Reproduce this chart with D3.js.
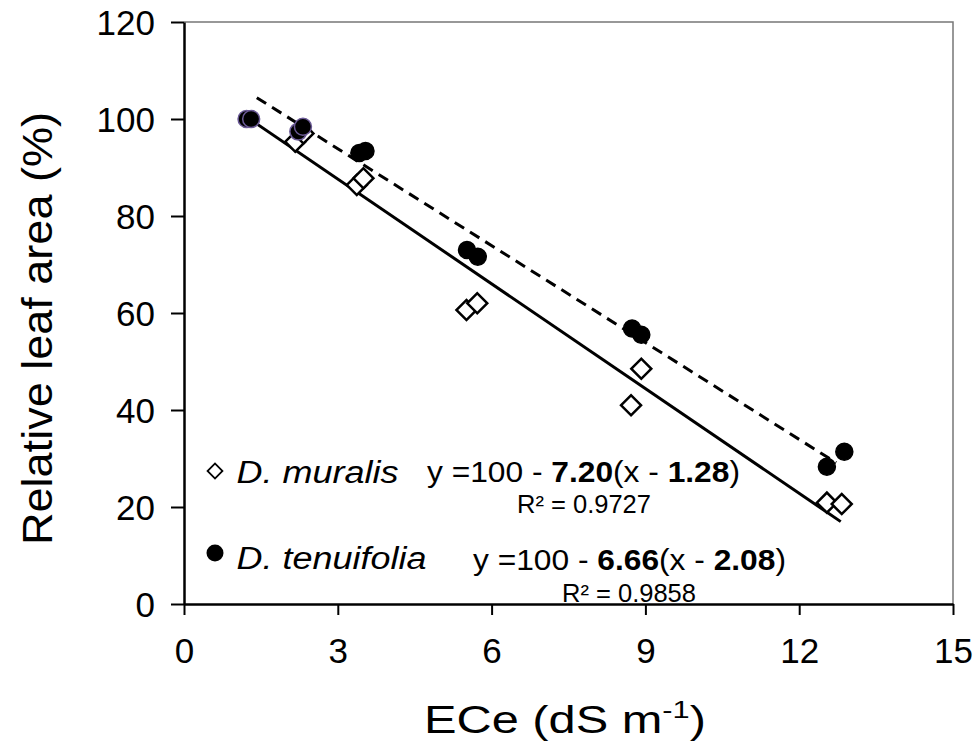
<!DOCTYPE html>
<html>
<head>
<meta charset="utf-8">
<script src="https://cdn.jsdelivr.net/npm/d3@7"></script>
<style>
  html, body { margin: 0; padding: 0; background: #fff; }
  svg { display: block; font-family: Arial, "Liberation Sans", sans-serif; }
</style>
</head>
<body>
<svg id="chart" width="979" height="753"></svg>
<script>
// ---- data ----
const muralisX = [2.17, 2.33, 3.37, 3.50, 5.51, 5.72, 8.72, 8.92, 12.54, 12.83];
const muralisY = [95.3, 97.0, 86.4, 87.8, 60.6, 62.0, 41.0, 48.5, 20.9, 20.6];
const tenuifoliaX = [1.22, 1.31, 2.23, 2.32, 3.42, 3.54, 5.52, 5.73, 8.74, 8.92, 12.54, 12.88];
const tenuifoliaY = [100, 100, 97.4, 98.4, 93.0, 93.4, 73.0, 71.6, 56.8, 55.5, 28.3, 31.4];
const fitSlopes = [7.20, 6.66];
const fitX0 = [1.28, 2.08];
const fitRange = [[1.28, 12.81], [1.42, 12.72]];
const fitR2 = ["0.9727", "0.9858"];
const seriesNames = ["D. muralis", "D. tenuifolia"];
const xMajorTicks = [0, 3, 6, 9, 12, 15];
const xMinorTicks = d3.range(0, 16, 1);
const yMajorTicks = [0, 20, 40, 60, 80, 100, 120];
const yMinorTicks = d3.range(0, 121, 10);

const svg = d3.select("#chart");
const x = d3.scaleLinear().domain([0, 15]).range([184, 953]);
const y = d3.scaleLinear().domain([0, 120]).range([604, 22]);

// frame (top & right)
svg.append("path")
  .attr("d", `M${x(0)},${y(120)}H${x(15)}V${y(0)}`)
  .attr("fill", "none").attr("stroke", "#777").attr("stroke-width", 1.5);

// axes
const gx = svg.append("g").attr("transform", `translate(0,${y(0)})`);
gx.call(d3.axisBottom(x).tickValues(xMinorTicks).tickSize(7).tickFormat(""));
gx.call(d3.axisBottom(x).tickValues(xMajorTicks).tickSize(11).tickSizeOuter(0).tickFormat(d3.format("d")));
gx.selectAll("path.domain").attr("stroke", "#000").attr("stroke-width", 2.5);
gx.selectAll("line").attr("stroke", "#000").attr("stroke-width", 2);
gx.selectAll("text").attr("font-size", 35).attr("fill", "#000").attr("y", 0).attr("dy", 0)
  .attr("transform", "translate(0,59)");

const gy = svg.append("g").attr("transform", `translate(${x(0)},0)`);
gy.call(d3.axisLeft(y).tickValues(yMinorTicks).tickSize(9).tickFormat(""));
gy.call(d3.axisLeft(y).tickValues(yMajorTicks).tickSize(13).tickSizeOuter(0).tickFormat(d3.format("d")));
gy.selectAll("path.domain").attr("stroke", "#000").attr("stroke-width", 2.5);
gy.selectAll("line").attr("stroke", "#000").attr("stroke-width", 2);
gy.selectAll("text").attr("font-size", 35).attr("fill", "#000").attr("x", -29).attr("dy", "0.36em");

// axis titles
svg.append("text")
  .attr("transform", `translate(52,${(112 + 545) / 2}) rotate(-90)`)
  .attr("text-anchor", "middle").attr("font-size", 42)
  .attr("textLength", 433).attr("lengthAdjust", "spacingAndGlyphs")
  .text("Relative leaf area (%)");

const xt = svg.append("text").attr("x", 424).attr("y", 733).attr("font-size", 38)
  .attr("textLength", 282).attr("lengthAdjust", "spacingAndGlyphs");
xt.append("tspan").text("ECe (dS m");
xt.append("tspan").attr("font-size", 24).attr("dy", -15).text("-1");
xt.append("tspan").attr("dy", 15).text(")");

// regression lines
const line = d3.line().x(d => x(d[0])).y(d => y(d[1]));
fitSlopes.forEach((b, i) => {
  const pts = fitRange[i].map(v => [v, 100 - b * (v - fitX0[i])]);
  svg.append("path").attr("d", line(pts))
    .attr("fill", "none").attr("stroke", "#000").attr("stroke-width", 3)
    .attr("stroke-dasharray", i === 1 ? "11,7" : null);
});

// markers
const diamond = d3.symbol().type(d3.symbolSquare).size(200);
svg.append("g").selectAll("path")
  .data(muralisX.map((v, i) => [v, muralisY[i]]))
  .join("path")
  .attr("d", diamond)
  .attr("transform", d => `translate(${x(d[0])},${y(d[1])}) rotate(45)`)
  .attr("fill", "#fff").attr("stroke", "#000").attr("stroke-width", 2.5);

svg.append("g").selectAll("circle")
  .data(tenuifoliaX.map((v, i) => [v, tenuifoliaY[i]]))
  .join("circle")
  .attr("cx", d => x(d[0])).attr("cy", d => y(d[1])).attr("r", 8.5)
  .attr("fill", "#000")
  .attr("stroke", d => d[0] < 2.5 ? "#6b5a96" : "#000")
  .attr("stroke-width", 1.5);

// legend / equations
svg.append("path").attr("d", d3.symbol().type(d3.symbolSquare).size(110))
  .attr("transform", "translate(215,471) rotate(45)")
  .attr("fill", "#fff").attr("stroke", "#000").attr("stroke-width", 1.8);
svg.append("circle").attr("cx", 215).attr("cy", 553).attr("r", 8.5).attr("fill", "#000");

const legendY = [482.5, 568.5];
const legendW = [162, 190];
seriesNames.forEach((n, i) => {
  svg.append("text").attr("x", 236.5).attr("y", legendY[i])
    .attr("font-size", 31).attr("font-style", "italic")
    .attr("textLength", legendW[i]).attr("lengthAdjust", "spacingAndGlyphs")
    .text(n);
});

const eqX = [427, 473];
const eqBase = [481.5, 570];
const r2X = [517, 562];
const r2Base = [513, 601.5];
fitSlopes.forEach((b, i) => {
  const t = svg.append("text").attr("x", eqX[i]).attr("y", eqBase[i]).attr("font-size", 29)
    .attr("textLength", 313).attr("lengthAdjust", "spacingAndGlyphs");
  t.append("tspan").text("y =100 - ");
  t.append("tspan").attr("font-weight", "bold").text(b.toFixed(2));
  t.append("tspan").text("(x - ");
  t.append("tspan").attr("font-weight", "bold").text(fitX0[i].toFixed(2));
  t.append("tspan").text(")");
  svg.append("text").attr("x", r2X[i]).attr("y", r2Base[i]).attr("font-size", 25)
    .attr("textLength", 134).attr("lengthAdjust", "spacingAndGlyphs")
    .text("R² = " + fitR2[i]);
});
</script>
</body>
</html>
